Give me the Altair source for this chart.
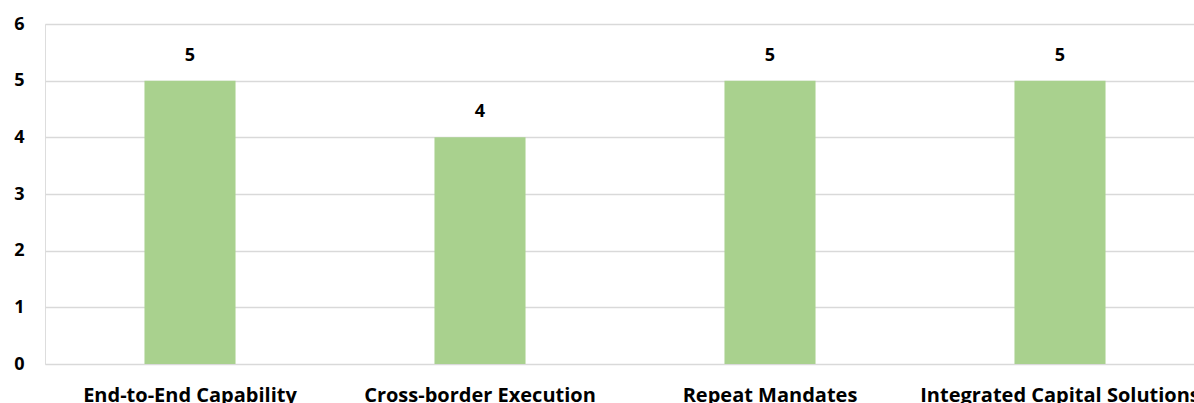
import altair as alt
import pandas as pd

categories = ["End-to-End Capability", "Cross-border Execution", "Repeat Mandates", "Integrated Capital Solutions"]
scores = [5, 4, 5, 5]

df = pd.DataFrame({"category": categories, "score": scores})

FONT = "Open Sans"

# The band range runs a little past the right edge of the canvas, so the
# last category label is clipped by the page border.
x = alt.X(
    "category:N",
    sort=categories,
    title=None,
    scale=alt.Scale(paddingInner=0.686, paddingOuter=0.343, range=[0, 1160]),
    axis=alt.Axis(
        labelAngle=0,
        labelFont=FONT,
        labelFontSize=20,
        labelFontWeight="bold",
        labelColor="#000000",
        labelPadding=21,
        labelLimit=0,
        labelOverlap=False,
        domain=False,
        ticks=False,
        grid=False,
    ),
)

y = alt.Y(
    "score:Q",
    title=None,
    scale=alt.Scale(domain=[0, 6], nice=False),
    axis=alt.Axis(
        values=[0, 1, 2, 3, 4, 5, 6],
        labelFont=FONT,
        labelFontSize=18,
        labelFontWeight="bold",
        labelColor="#000000",
        labelPadding=21,
        domain=False,
        ticks=False,
        gridColor="#D9D9D9",
        gridWidth=1.5,
    ),
)

bars = alt.Chart(df).mark_bar(color="#A9D18E").encode(x=x, y=y)

labels = alt.Chart(df).mark_text(
    font=FONT,
    fontSize=18,
    fontWeight="bold",
    color="#000000",
    baseline="bottom",
    dy=-16,
).encode(x=x, y=y, text="score:Q")

chart = (
    alt.layer(bars, labels)
    .properties(
        width=1149,
        height=340,
        autosize=alt.AutoSizeParams(type="none"),
        padding={"left": 45, "top": 24, "right": 0, "bottom": 39},
    )
    .configure_view(stroke=None)
    .configure(background="white")
)

chart.save("out.html", embed_options={"renderer": "svg", "actions": False})
